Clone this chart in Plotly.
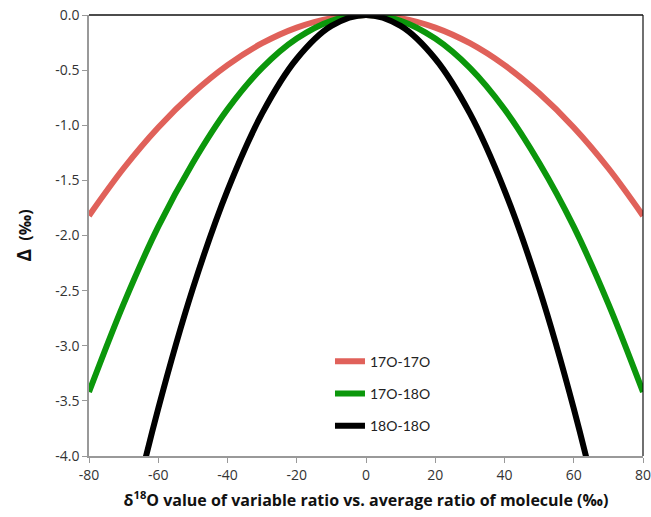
import plotly.graph_objects as go

# delta18O of the variable ratio vs. the molecule's average ratio (per mil)
delta18O = [-80, -70, -60, -50, -40, -30, -20, -10, 0, 10, 20, 30, 40, 50, 60, 70, 80]

# Delta (per mil) for each isotopologue pair
d_17O_17O = [-1.82, -1.39, -1.02, -0.71, -0.455, -0.256, -0.114, -0.028, 0.0,
             -0.028, -0.114, -0.256, -0.455, -0.71, -1.02, -1.39, -1.82]
d_17O_18O = [-3.42, -2.62, -1.92, -1.34, -0.855, -0.48, -0.214, -0.053, 0.0,
             -0.053, -0.214, -0.48, -0.855, -1.34, -1.92, -2.62, -3.42]
d_18O_18O = [-6.35, -4.86, -3.57, -2.48, -1.59, -0.893, -0.397, -0.099, 0.0,
             -0.099, -0.397, -0.893, -1.59, -2.48, -3.57, -4.86, -6.35]

x_ticks = [-80, -60, -40, -20, 0, 20, 40, 60, 80]
x_ticktext = ["-80", "-60", "-40", "-20", "0", "20", "40", "60", "80"]
y_ticks = [0, -0.5, -1, -1.5, -2, -2.5, -3, -3.5, -4]
y_ticktext = ["0.0", "-0.5", "-1.0", "-1.5", "-2.0", "-2.5", "-3.0", "-3.5", "-4.0"]

series = [
    ("17O-17O", d_17O_17O, "#E0615A"),
    ("17O-18O", d_17O_18O, "#0B970B"),
    ("18O-18O", d_18O_18O, "#000000"),
]

fig = go.Figure()
for i, (name, vals, color) in enumerate(series):
    fig.add_trace(go.Scatter(
        x=delta18O, y=vals, name=name, mode="lines",
        line=dict(color=color, width=6, shape="spline", smoothing=1.0),
        legendgroup=f"g{i}",
    ))

tick_font = dict(family="Open Sans, Liberation Sans, sans-serif", size=14, color="#333333")
title_font = dict(family="Open Sans, Liberation Sans, sans-serif", size=16, color="#111111")

fig.update_layout(
    width=651, height=517,
    margin=dict(l=89, r=8, t=15, b=61),
    paper_bgcolor="white", plot_bgcolor="white",
    showlegend=True,
    legend=dict(
        x=0.435, y=0.25, xanchor="left", yanchor="top",
        bgcolor="rgba(0,0,0,0)",
        font=dict(family="Lato, sans-serif", size=14, color="#222222"),
        tracegroupgap=11, itemwidth=30,
    ),
    xaxis=dict(
        range=[-80, 80], tickmode="array",
        tickvals=x_ticks, ticktext=x_ticktext,
        ticks="outside", ticklen=5, tickcolor="#999999",
        ticklabeloverflow="allow", automargin=False,
        showline=True, linecolor="#999999", linewidth=1.5,
        showgrid=False, zeroline=False, tickfont=tick_font,
        title=dict(
            text="<b>δ<sup>18</sup>O value of variable ratio vs. average ratio of molecule (‰)</b>",
            font=title_font, standoff=12,
        ),
    ),
    yaxis=dict(
        range=[-4, 0], tickmode="array",
        tickvals=y_ticks, ticktext=y_ticktext,
        ticks="outside", ticklen=5, tickcolor="#999999",
        ticklabeloverflow="allow", automargin=False,
        showline=True, linecolor="#999999", linewidth=1.5,
        showgrid=False, zeroline=False, tickfont=tick_font,
        title=dict(
            text="<b><span style='font-size:19px'>Δ</span>  (‰)</b>",
            font=title_font, standoff=20,
        ),
    ),
    shapes=[
        dict(type="line", xref="paper", yref="paper", x0=0, x1=1, y0=1, y1=1,
             line=dict(color="#111111", width=1.5)),
        dict(type="line", xref="paper", yref="paper", x0=1, x1=1, y0=0, y1=1,
             line=dict(color="#111111", width=1.2)),
    ],
)

fig.write_html("out.html")
